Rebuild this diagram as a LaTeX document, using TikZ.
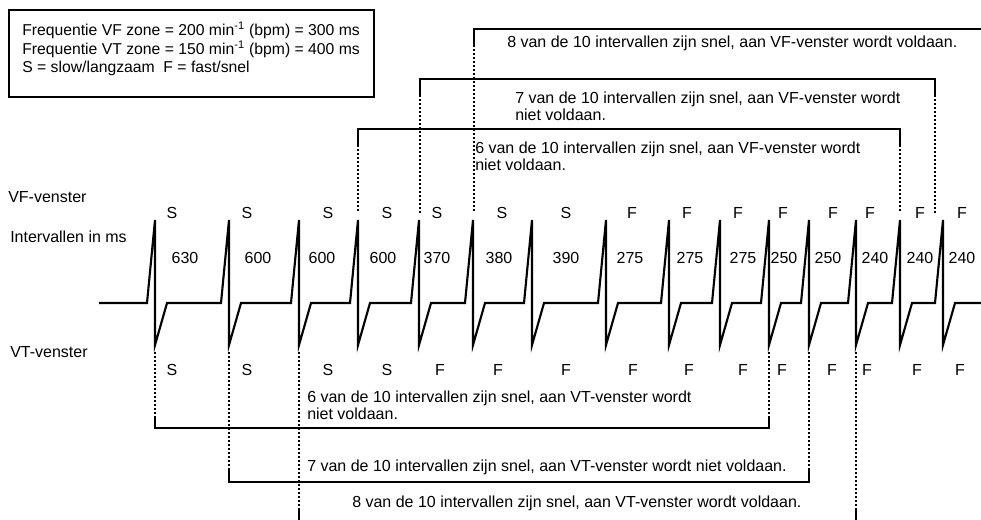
\documentclass[tikz,border=0pt]{standalone}
\usepackage{fontspec}
\setmainfont{Liberation Sans}
\usetikzlibrary{positioning,calc}
\tikzset{
  ecg/.style={line width=1.6pt,line join=miter},
  rand/.style={line width=0.8pt},
  stip/.style={line width=0.8pt,dash pattern=on 1.5pt off 1.5pt},
  lbl/.style={inner sep=0pt,font=\fontsize{12}{13.5}\selectfont},
  txt/.style={inner sep=0pt,anchor=west,align=left,font=\fontsize{12}{13}\selectfont},
}

\begin{document}
\begin{tikzpicture}[x=0.75pt,y=-0.75pt]
  \useasboundingbox (0,0) rectangle (981,519);
  % legenda
  \draw[rand] (9,10) rectangle (374,97);
  \node[txt,font=\fontsize{11.8}{13.9}\selectfont] (info) at (22,49)
    {Frequentie VF zone = 200 min\textsuperscript{-1} (bpm) = 300 ms\\
     Frequentie VT zone = 150 min\textsuperscript{-1} (bpm) = 400 ms\\
     S = slow/langzaam\ \ F = fast/snel};
  % rijtitels
  \node[txt] (vfkop) at (8,197) {VF-venster};
  \node[txt] (ivkop) at (10,237) {Intervallen in ms};
  \node[txt] (vtkop) at (10,352) {VT-venster};
  % ECG
  \draw[ecg] (99,303)
    foreach \x in {155,229,299,358,419,473,532,606,669,720,769,809,856,900,943}
      { -- (\x-8,303) -- (\x,220) -- (\x,345) -- (\x+12,303) }
    -- (985,303);
  % S/F en intervallen
  \foreach \x/\t [count=\i] in {172/S,247/S,328/S,387/S,437/S,502/S,566/S,632/F,
      687/F,738/F,783/F,833/F,870/F,920/F,962/F}
    \node[lbl] (vf\i) at (\x,213) {\t};
  \foreach \x/\t [count=\i] in {185/630,258/600,322/600,383/600,437/370,499/380,
      566/390,630/275,690/275,743/275,784/250,828/250,875/240,920/240,962/240}
    \node[lbl] (iv\i) at (\x,258) {\t};
  \foreach \x/\t [count=\i] in {172/S,247/S,328/S,387/S,440/F,498/F,566/F,633/F,
      689/F,743/F,782/F,832/F,867/F,917/F,960/F}
    \node[lbl] (vt\i) at (\x,370) {\t};
  % VF-vensters
  \foreach \xl/\xr/\h in {358/900/129,420/935/79,474/995/29} {
    \draw[rand] (\xl,\h+16) -- (\xl,\h) -- (\xr,\h) -- (\xr,\h+16);
    \draw[stip] (\xl,\h+16) -- (\xl,213) (\xr,\h+16) -- (\xr,213);
  }
  \node[txt] (vf8tekst) at (507,43)
    {8 van de 10 intervallen zijn snel, aan VF-venster wordt voldaan.};
  \node[txt] (vf7tekst) at (515,106)
    {7 van de 10 intervallen zijn snel, aan VF-venster wordt\\niet voldaan.};
  \node[txt] (vf6tekst) at (475,156)
    {6 van de 10 intervallen zijn snel, aan VF-venster wordt\\niet voldaan.};
  % VT-vensters
  \foreach \xl/\xr/\h in {155/769/428,229/809/482,299/856/522} {
    \draw[stip] (\xl,352) -- (\xl,\h-12) (\xr,352) -- (\xr,\h-12);
    \draw[rand] (\xl,\h-12) -- (\xl,\h) -- (\xr,\h) -- (\xr,\h-12);
  }
  \node[txt] (vt6tekst) at (307,405)
    {6 van de 10 intervallen zijn snel, aan VT-venster wordt\\niet voldaan.};
  \node[txt] (vt7tekst) at (307,467)
    {7 van de 10 intervallen zijn snel, aan VT-venster wordt niet voldaan.};
  \node[txt] (vt8tekst) at (352,503)
    {8 van de 10 intervallen zijn snel, aan VT-venster wordt voldaan.};
\end{tikzpicture}
\end{document}
